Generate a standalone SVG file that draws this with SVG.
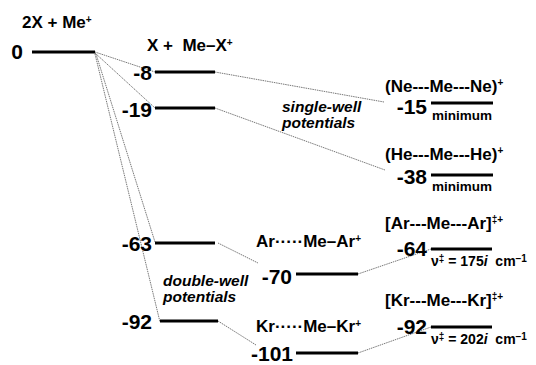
<svg xmlns="http://www.w3.org/2000/svg" width="536" height="365" viewBox="0 0 536 365">
<style>
.lv{stroke:#000;stroke-width:3;fill:none}
.cn{stroke:#555;stroke-width:0.8;stroke-dasharray:1.5 0.8;fill:none}
text{font-family:"Liberation Sans",Arial,sans-serif;font-weight:bold;fill:#000}
.num{font-size:21px;text-anchor:end}
.lab{font-size:17px}
.sm{font-size:13.5px}
.nu{font-size:14px}
.it{font-size:15.5px;font-style:italic}
.sup{font-size:10px}
</style>
<rect width="536" height="365" fill="#fff"/>
<g id="connectors">
<line class="cn" x1="95" y1="52" x2="155" y2="72"/>
<line class="cn" x1="95" y1="53" x2="155" y2="108"/>
<line class="cn" x1="96" y1="54" x2="155" y2="242"/>
<line class="cn" x1="95" y1="54" x2="160" y2="322"/>
<line class="cn" x1="215" y1="72" x2="384" y2="102"/>
<line class="cn" x1="215" y1="108" x2="385" y2="170"/>
<line class="cn" x1="218" y1="243" x2="258" y2="263"/>
<line class="cn" x1="218" y1="321" x2="256" y2="345"/>
<line class="cn" x1="358" y1="274" x2="431" y2="249"/>
<line class="cn" x1="358" y1="353" x2="431" y2="327"/>
</g>
<g id="n-start">
<text class="lab" x="22" y="28">2X + Me<tspan class="sup" dy="-5">+</tspan></text>
<line class="lv" x1="32" y1="52" x2="95" y2="52"/>
<text class="num" x="23" y="59">0</text>
</g>
<g id="n-header">
<text class="lab" x="147" y="51" xml:space="preserve">X +  Me–X<tspan class="sup" dy="-5">+</tspan></text>
</g>
<g id="n-m8">
<line class="lv" x1="155" y1="72" x2="215" y2="72"/>
<text class="num" x="152" y="80">-8</text>
</g>
<g id="n-m19">
<line class="lv" x1="155" y1="108" x2="215" y2="108"/>
<text class="num" x="152" y="117">-19</text>
</g>
<g id="n-m63">
<line class="lv" x1="155" y1="243" x2="215" y2="243"/>
<text class="num" x="152" y="251">-63</text>
</g>
<g id="n-m92">
<line class="lv" x1="160" y1="321" x2="218" y2="321"/>
<text class="num" x="152" y="329">-92</text>
</g>
<g id="n-single">
<text class="it" x="282" y="112">single-well</text>
<text class="it" x="282" y="128">potentials</text>
</g>
<g id="n-double">
<text class="it" x="163" y="286">double-well</text>
<text class="it" x="163" y="302">potentials</text>
</g>
<g id="n-ne">
<text class="lab" x="385" y="92">(Ne---Me---Ne)<tspan class="sup" dy="-6">+</tspan></text>
<line class="lv" x1="431" y1="103" x2="493" y2="103"/>
<text class="num" x="427" y="114">-15</text>
<text class="sm" x="432" y="120">minimum</text>
</g>
<g id="n-he">
<text class="lab" x="385" y="160">(He---Me---He)<tspan class="sup" dy="-6">+</tspan></text>
<line class="lv" x1="431" y1="175" x2="493" y2="175"/>
<text class="num" x="427" y="184">-38</text>
<text class="sm" x="432" y="191">minimum</text>
</g>
<g id="n-ar-min">
<text class="lab" x="256" y="247">Ar·····Me–Ar<tspan class="sup" dy="-5">+</tspan></text>
<line class="lv" x1="296" y1="274" x2="358" y2="274"/>
<text class="num" x="292" y="284">-70</text>
</g>
<g id="n-kr-min">
<text class="lab" x="256" y="332">Kr·····Me–Kr<tspan class="sup" dy="-5">+</tspan></text>
<line class="lv" x1="296" y1="353" x2="358" y2="353"/>
<text class="num" x="293" y="361">-101</text>
</g>
<g id="n-ar-ts">
<text class="lab" x="385" y="229">[Ar---Me---Ar]<tspan class="sup" dy="-6">‡+</tspan></text>
<line class="lv" x1="431" y1="249" x2="492" y2="249"/>
<text class="num" x="427" y="256">-64</text>
<text class="nu" x="431" y="266" xml:space="preserve">ν<tspan class="sup" dy="-4">‡</tspan><tspan dy="4"> = 175</tspan><tspan font-style="italic">i</tspan>  cm<tspan class="sup" dy="-4">–1</tspan></text>
</g>
<g id="n-kr-ts">
<text class="lab" x="385" y="306">[Kr---Me---Kr]<tspan class="sup" dy="-6">‡+</tspan></text>
<line class="lv" x1="431" y1="327" x2="492" y2="327"/>
<text class="num" x="427" y="334">-92</text>
<text class="nu" x="431" y="344" xml:space="preserve">ν<tspan class="sup" dy="-4">‡</tspan><tspan dy="4"> = 202</tspan><tspan font-style="italic">i</tspan>  cm<tspan class="sup" dy="-4">–1</tspan></text>
</g>
</svg>
